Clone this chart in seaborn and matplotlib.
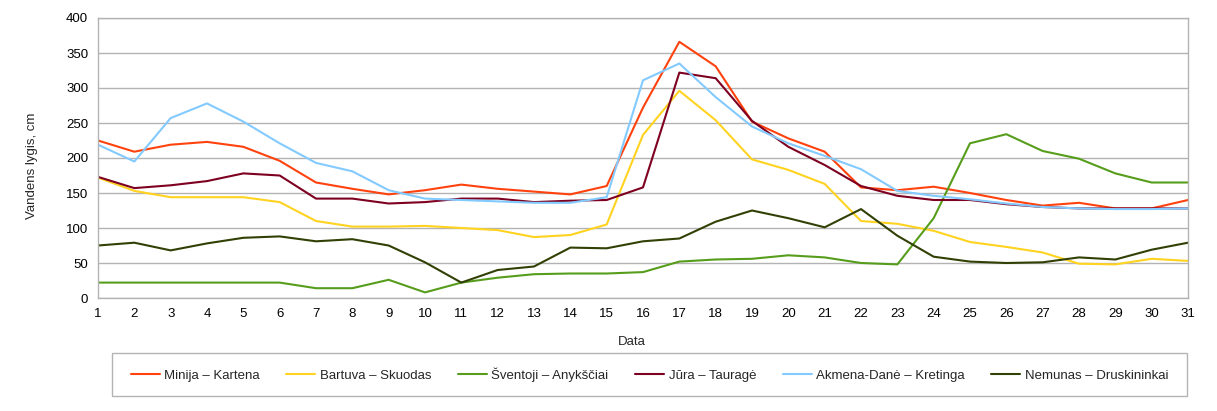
import matplotlib
matplotlib.use("Agg")
import matplotlib.pyplot as plt
from matplotlib.patches import Rectangle
import seaborn as sns
import pandas as pd

# Duomenys (nuskaityti nuo grafiko)
days = list(range(1, 32))
minija = [225, 209, 219, 223, 216, 196, 165, 156, 148, 154, 162, 156, 152, 148, 160, 272,
          366, 331, 252, 228, 209, 158, 154, 159, 150, 140, 132, 136, 128, 128, 140]
bartuva = [172, 153, 144, 144, 144, 137, 110, 102, 102, 103, 100, 97, 87, 90, 105, 233,
           296, 254, 198, 183, 163, 110, 106, 96, 80, 73, 65, 49, 48, 56, 53]
sventoji = [22, 22, 22, 22, 22, 22, 14, 14, 26, 8, 22, 29, 34, 35, 35, 37,
            52, 55, 56, 61, 58, 50, 48, 114, 221, 234, 210, 199, 178, 165, 165]
jura = [173, 157, 161, 167, 178, 175, 142, 142, 135, 137, 142, 142, 137, 139, 140, 158,
        322, 314, 253, 216, 190, 160, 146, 140, 140, 134, 130, 128, 128, 128, 128]
akmena = [219, 195, 257, 278, 252, 221, 193, 181, 154, 142, 140, 138, 136, 136, 144, 311,
          335, 287, 245, 221, 203, 184, 153, 146, 141, 135, 130, 128, 127, 127, 128]
nemunas = [75, 79, 68, 78, 86, 88, 81, 84, 75, 51, 22, 40, 45, 72, 71, 81,
           85, 109, 125, 114, 101, 127, 89, 59, 52, 50, 51, 58, 55, 69, 79]

series_names = ["Minija – Kartena", "Bartuva – Skuodas", "Šventoji – Anykščiai",
                "Jūra – Tauragė", "Akmena-Danė – Kretinga", "Nemunas – Druskininkai"]
series_values = [minija, bartuva, sventoji, jura, akmena, nemunas]
colors = ["#ff420e", "#ffd320", "#579d1c", "#7e0021", "#83caff", "#314004"]

rows = []
for name, vals in zip(series_names, series_values):
    for d, v in zip(days, vals):
        rows.append({"Data": d, "lygis": v, "upe": name})
df = pd.DataFrame(rows)

sns.set_style("white")
plt.rcParams['font.family'] = ['Liberation Sans', 'DejaVu Sans']

grey = "#b3b3b3"
fig = plt.figure(figsize=(12.17, 4.11), dpi=100)
ax = fig.add_axes([98 / 1217, 1 - 298 / 411, 1090 / 1217, 280 / 411])

sns.lineplot(data=df, x="Data", y="lygis", hue="upe", hue_order=series_names,
             palette=colors, linewidth=1.5, ax=ax)

ax.set_xlim(1, 31)
ax.set_ylim(0, 400)
ax.set_xticks(days)
ax.set_yticks(range(0, 401, 50))
ax.grid(axis="y", color=grey, linewidth=1.0)
ax.set_axisbelow(True)
for sp in ax.spines.values():
    sp.set_color(grey)
    sp.set_linewidth(1.0)
ax.tick_params(axis="both", direction="out", length=4, width=1.0, color=grey,
               labelsize=9.5, labelcolor="black")
ax.tick_params(axis="x", pad=3)
ax.tick_params(axis="y", pad=3)

ax.set_xlabel("Data", fontsize=9.5)
ax.set_ylabel("Vandens lygis, cm", fontsize=9.5)
ax.xaxis.set_label_coords(0.49, -0.157)
ax.xaxis.label.set_va("center")
ax.yaxis.set_label_coords(-0.0606, 0.471)
ax.yaxis.label.set_va("center")

# Legenda apačioje
handles, labels = ax.get_legend_handles_labels()
ax.get_legend().remove()
fig.legend(handles, labels, loc="center", bbox_to_anchor=(649.5 / 1217, 1 - 374.5 / 411),
           ncol=6, frameon=False, fontsize=9.5, handlelength=2.2, handletextpad=0.35,
           columnspacing=2.0)
fig.patches.append(Rectangle((112 / 1217, 1 - 396 / 411), 1075 / 1217, 43 / 411,
                             transform=fig.transFigure, fill=False, edgecolor=grey,
                             linewidth=1.0))

plt.savefig("out.png", dpi=100)
plt.close()
